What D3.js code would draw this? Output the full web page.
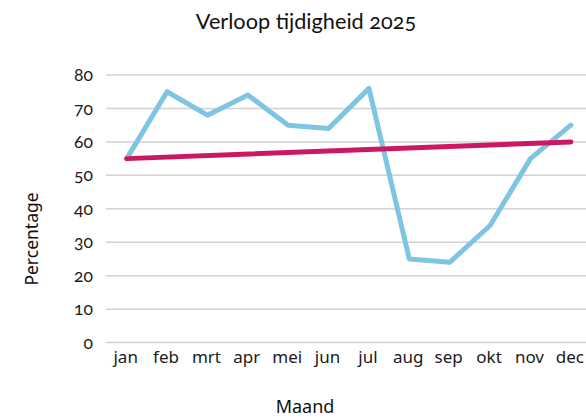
<!DOCTYPE html>
<html>
<head>
<meta charset="utf-8">
<script src="https://cdn.jsdelivr.net/npm/d3@7"></script>
<style>
  html, body { margin: 0; padding: 0; background: #fff; }
  svg { display: block; }
  .lato { font-family: Lato, "Noto Sans", sans-serif; font-variant-numeric: oldstyle-nums; font-feature-settings: "onum" 1; }
  .noto { font-family: "Noto Sans", "Open Sans", sans-serif; }
</style>
</head>
<body>
<script>
const title = "Verloop tijdigheid 2025";
const xTitle = "Maand";
const yTitle = "Percentage";
const months = ["jan","feb","mrt","apr","mei","jun","jul","aug","sep","okt","nov","dec"];
const tijdigheid = [55, 75, 68, 74, 65, 64, 76, 25, 24, 35, 55, 65];
const trendMonths = ["jan", "dec"];
const trendValues = [55, 60];
const yTicks = [0, 10, 20, 30, 40, 50, 60, 70, 80];

const W = 586, H = 419;
const svg = d3.select("body").append("svg").attr("width", W).attr("height", H);

const x = d3.scaleBand().domain(months).range([106.5, 591]).padding(0);
const xc = m => x(m) + x.bandwidth() / 2;
const y = d3.scaleLinear().domain([0, 80]).range([342.6, 75]);

// gridlines
svg.append("g").selectAll("line").data(yTicks).join("line")
  .attr("x1", 106).attr("x2", W)
  .attr("y1", d => y(d)).attr("y2", d => y(d))
  .attr("stroke", "#d2d2d2").attr("stroke-width", 1.5);

// y axis labels
const yAxis = d3.axisLeft(y).tickValues(yTicks).tickSize(0).tickPadding(0);
const gy = svg.append("g").attr("transform", "translate(93,0)").call(yAxis);
gy.select(".domain").remove();
gy.selectAll("text").attr("class", "lato").attr("font-size", 17.5).attr("fill", "#1a1a1a");

// x axis labels
const xAxis = d3.axisBottom(x).tickSize(0).tickPadding(0);
const gx = svg.append("g").attr("transform", "translate(-1,351)").call(xAxis);
gx.select(".domain").remove();
gx.selectAll("text").attr("class", "noto").attr("font-size", 17).attr("fill", "#1a1a1a");

// series line
const line = d3.line().x(d => xc(d.m)).y(d => y(d.v));
svg.append("path")
  .datum(months.map((m, i) => ({m, v: tijdigheid[i]})))
  .attr("d", line)
  .attr("fill", "none").attr("stroke", "#7ec5e3").attr("stroke-width", 5)
  .attr("stroke-linejoin", "round").attr("stroke-linecap", "round");

// trend line
svg.append("path")
  .datum(trendMonths.map((m, i) => ({m, v: trendValues[i]})))
  .attr("d", line)
  .attr("fill", "none").attr("stroke", "#ca1862").attr("stroke-width", 5)
  .attr("stroke-linecap", "round");

// titles
svg.append("text").attr("class", "lato").attr("x", 306).attr("y", 28.5)
  .attr("text-anchor", "middle").attr("font-size", 21.7).attr("fill", "#111").text(title);
svg.append("text").attr("class", "noto").attr("x", 305).attr("y", 413)
  .attr("text-anchor", "middle").attr("font-size", 18).attr("fill", "#111").text(xTitle);
svg.append("text").attr("class", "noto")
  .attr("transform", "translate(37.5,239) rotate(-90)")
  .attr("text-anchor", "middle").attr("font-size", 17.5).attr("fill", "#111").text(yTitle);
</script>
</body>
</html>
